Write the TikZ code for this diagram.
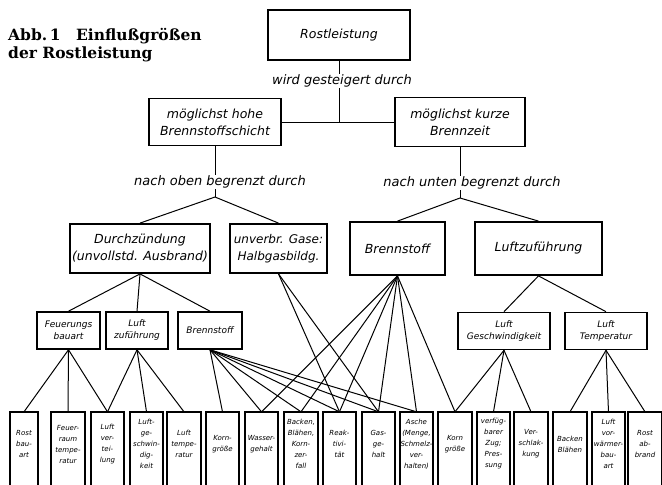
\documentclass[tikz,border=0pt]{standalone}
\usepackage{fontspec}
\newfontfamily\diafont{DejaVu Sans Oblique}
\newfontfamily\titlefont{DejaVu Serif}

\begin{document}
\begin{tikzpicture}[x=1pt,y=-1pt,
    box/.style={draw=black,line width=1.8pt,align=center,inner sep=2pt,
                font=\diafont\fontsize{12.5}{17}\selectfont},
    smallbox/.style={draw=black,line width=1.6pt,align=center,inner sep=1pt,
                minimum height=37pt,font=\diafont\fontsize{9}{12}\selectfont},
    leaf/.style={align=center,inner sep=0pt,minimum width=33pt,minimum height=64pt,
                font=\diafont\fontsize{7}{11}\selectfont},
    frame/.style={line width=1.7pt},
    say/.style={inner sep=1pt,font=\diafont\fontsize{13}{15}\selectfont},
    link/.style={line width=1pt}]
    \clip (0,0) rectangle (662,485);

    \node[anchor=north west,align=left,inner sep=0pt,
          font=\titlefont\bfseries\fontsize{15.5}{18}\selectfont] (title) at (8,28)
          {Abb.\,1\quad Einflußgrößen\\der Rostleistung};

    % top
    \node[box,minimum width=142pt,minimum height=50pt] (rost) at (339,35) {Rostleistung};
    \node[say] (wird) at (342,81) {wird gesteigert durch};
    \node[box,minimum width=132pt,minimum height=47pt] (hohe) at (215,122) {möglichst hohe\\Brennstoffschicht};
    \node[box,minimum width=130pt,minimum height=49pt] (kurz) at (460,122) {möglichst kurze\\Brennzeit};
    \draw[link] (rost.south) -- (rost.south |- wird.north);
    \draw[link] (rost.south |- wird.south) -- (rost.south |- hohe.east);
    \draw[link] (hohe) -- (kurz);

    % limits
    \node[say] (oben) at (220,182) {nach oben begrenzt durch};
    \node[say] (unten) at (472,183) {nach unten begrenzt durch};
    \coordinate (ofork) at (215,197);
    \coordinate (ufork) at (460,198);
    \draw[link] (hohe.south) -- (hohe.south |- oben.north);
    \draw[link] (hohe.south |- oben.south) -- (ofork);
    \draw[link] (kurz.south) -- (kurz.south |- unten.north);
    \draw[link] (kurz.south |- unten.south) -- (ufork);

    \node[box,minimum width=130pt,minimum height=49pt] (zuend) at (140,248.5) {Durchzündung\\(unvollstd. Ausbrand)};
    \node[box,minimum width=97pt,minimum height=49pt,font=\diafont\fontsize{12}{17}\selectfont] (gase) at (278.5,248.5) {unverbr. Gase:\\Halbgasbildg.};
    \node[box,minimum width=95pt,minimum height=53pt] (brenn) at (397.5,248.5) {Brennstoff};
    \node[box,minimum width=127pt,minimum height=53pt] (luftz) at (538.5,248.5) {Luftzuführung};
    \draw[link] (ofork) -- (zuend.north);
    \draw[link] (ofork) -- (gase.north);
    \draw[link] (ufork) -- (brenn.north);
    \draw[link] (ufork) -- (luftz.north);

    % small boxes
    \node[smallbox,minimum width=63pt] (feuer) at (68.5,330.5) {Feuerungs\\bauart};
    \node[smallbox,minimum width=62pt] (luft) at (137,330.5) {Luft\\zuführung};
    \node[smallbox,minimum width=64pt] (stoff) at (210,330.5) {Brennstoff};
    \node[smallbox,minimum width=92pt] (geschw) at (504,331) {Luft\\Geschwindigkeit};
    \node[smallbox,minimum width=82pt] (temp) at (606,331) {Luft\\Temperatur};
    \draw[link] (zuend.south) -- (feuer.north);
    \draw[link] (zuend.south) -- (luft.north);
    \draw[link] (zuend.south) -- (stoff.north);
    \draw[link] (luftz.south) -- (geschw.north);
    \draw[link] (luftz.south) -- (temp.north);

    % bottom row
    \node[leaf,minimum width=27pt] (l1) at (24,444) {Rost\\bau-\\art};
    \node[leaf] (l2) at (68,444) {Feuer-\\raum\\tempe-\\ratur};
    \node[leaf] (l3) at (107.5,444) {Luft\\ver-\\tei-\\lung};
    \node[leaf] (l4) at (146.5,444) {Luft-\\ge-\\schwin-\\dig-\\keit};
    \node[leaf] (l5) at (184,444) {Luft\\tempe-\\ratur};
    \node[leaf] (l6) at (222.5,444) {Korn-\\größe};
    \node[leaf] (l7) at (261.5,444) {Wasser-\\gehalt};
    \node[leaf] (l8) at (301,444) {Backen,\\Blähen,\\Korn-\\zer-\\fall};
    \node[leaf] (l9) at (339.5,444) {Reak-\\tivi-\\tät};
    \node[leaf] (l10) at (378.5,444) {Gas-\\ge-\\halt};
    \node[leaf] (l11) at (416.5,444) {Asche\\(Menge,\\Schmelz-\\ver-\\halten)};
    \node[leaf] (l12) at (455,444) {Korn\\größe};
    \node[leaf] (l13) at (493.5,444) {verfüg-\\barer\\Zug;\\Pres-\\sung};
    \node[leaf] (l14) at (531,444) {Ver-\\schlak-\\kung};
    \node[leaf] (l15) at (570,444) {Backen\\Blähen};
    \node[leaf] (l16) at (608.5,444) {Luft\\vor-\\wärmer-\\bau-\\art};
    \node[leaf] (l17) at (645,444) {Rost\\ab-\\brand};
    \foreach \n in {1,...,17}
        \draw[frame] ([yshift=-20pt]l\n.south west) |- (l\n.north east) -- ([yshift=-20pt]l\n.south east);

    \foreach \n in {1,2,3} \draw[link] (feuer.south) -- (l\n.north);
    \foreach \n in {3,4,5} \draw[link] (luft.south) -- (l\n.north);
    \foreach \n in {6,...,11} \draw[link] (stoff.south) -- (l\n.north);
    \foreach \n in {9,10} \draw[link] (gase.south) -- (l\n.north);
    \foreach \n in {7,...,12} \draw[link] (brenn.south) -- (l\n.north);
    \foreach \n in {12,13,14} \draw[link] (geschw.south) -- (l\n.north);
    \foreach \n in {15,16,17} \draw[link] (temp.south) -- (l\n.north);
\end{tikzpicture}
\end{document}
